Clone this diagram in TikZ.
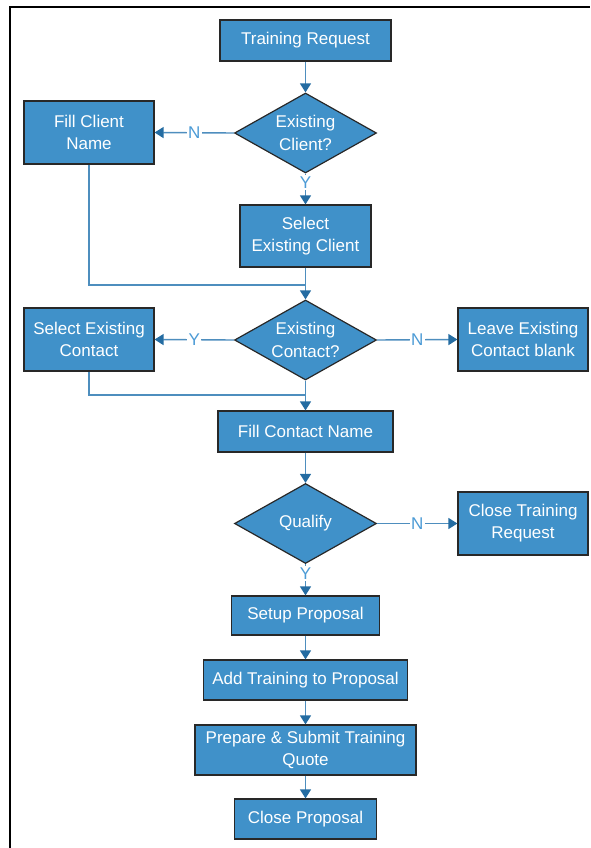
\documentclass[tikz,border=0pt]{standalone}
\usepackage{fontspec}
\setmainfont{Liberation Sans}
\usepackage{tikz}
\usetikzlibrary{shapes,arrows.meta,positioning,calc}

\definecolor{boxblue}{RGB}{64,145,201}
\definecolor{lineblue}{RGB}{78,142,190}
\definecolor{tipblue}{RGB}{36,108,162}
\definecolor{lblblue}{RGB}{76,155,214}
\definecolor{edgegray}{RGB}{40,40,40}

\tikzset{
  proc/.style={draw=edgegray,line width=1.2pt,fill=boxblue,text=white,align=center,inner sep=1pt,font=\fontsize{17}{22}\selectfont},
  decide/.style={shape=diamond,draw=edgegray,line width=1.2pt,fill=boxblue,inner sep=0pt,minimum width=142pt,minimum height=80pt},
  dtext/.style={text=white,align=center,font=\fontsize{17}{23}\selectfont},
  conn/.style={draw=lineblue,line width=1.4pt},
  flow/.style={conn,-{Triangle[length=9pt,width=11pt,color=tipblue]}},
  lbl/.style={fill=white,text=lblblue,inner sep=1.5pt,font=\fontsize{17}{20}\selectfont}
}

\begin{document}
\begin{tikzpicture}[x=1pt,y=-1pt]
\useasboundingbox (0,0) rectangle (590,848);
\draw [line width=2pt] (10,848) -- (10,7) -- (590,7);

\node[proc,minimum width=171pt,minimum height=41pt] (treq) at (305.5,40.5) {Training Request};
\node[decide,label={[dtext]center:Existing\\Client?}] (eclient) at (305.5,133) {};
\node[proc,minimum width=130pt,minimum height=63pt] (fillclient) at (89,132.5) {Fill Client\\Name};
\node[proc,minimum width=131pt,minimum height=62pt] (selclient) at (305.5,236) {Select\\Existing Client};
\node[decide,label={[dtext]center:Existing\\Contact?}] (econtact) at (305.5,340) {};
\node[proc,minimum width=130pt,minimum height=63pt] (selcontact) at (89,339.5) {Select Existing\\Contact};
\node[proc,minimum width=130pt,minimum height=63pt] (leave) at (523,339.5) {Leave Existing\\Contact blank};
\node[proc,minimum width=175pt,minimum height=41pt] (fillcontact) at (305.5,431.5) {Fill Contact Name};
\node[decide,label={[dtext]center:Qualify}] (qualify) at (305.5,523.5) {};
\node[proc,minimum width=130pt,minimum height=63pt] (closereq) at (523,523.5) {Close Training\\Request};
\node[proc,minimum width=148pt,minimum height=39pt] (setup) at (305.5,615.5) {Setup Proposal};
\node[proc,minimum width=204pt,minimum height=40pt] (addtr) at (305.5,680) {Add Training to Proposal};
\node[proc,minimum width=221pt,minimum height=50pt] (prep) at (305.5,750) {Prepare \& Submit Training\\Quote};
\node[proc,minimum width=142pt,minimum height=40pt] (closeprop) at (305.5,819) {Close Proposal};

\coordinate (join1) at (305.5,285);
\coordinate (join2) at (305.5,395);

\draw [flow] (treq) -- (eclient);
\draw [flow] (eclient.west) -- node[lbl] {N} (fillclient.east);
\draw [flow] (eclient.south) -- node[lbl,pos=0.3] {Y} (selclient.north);
\draw [conn] (fillclient.south) |- (join1);
\draw [flow] (selclient.south) -- (econtact.north);
\draw [flow] (econtact.west) -- node[lbl] {Y} (selcontact.east);
\draw [flow] (econtact.east) -- node[lbl] {N} (leave.west);
\draw [conn] (selcontact.south) |- (join2);
\draw [flow] (econtact.south) -- (fillcontact.north);
\draw [flow] (fillcontact) -- (qualify);
\draw [flow] (qualify.east) -- node[lbl] {N} (closereq.west);
\draw [flow] (qualify.south) -- node[lbl,pos=0.3] {Y} (setup.north);
\draw [flow] (setup) -- (addtr);
\draw [flow] (addtr) -- (prep);
\draw [flow] (prep) -- (closeprop);

\end{tikzpicture}
\end{document}
